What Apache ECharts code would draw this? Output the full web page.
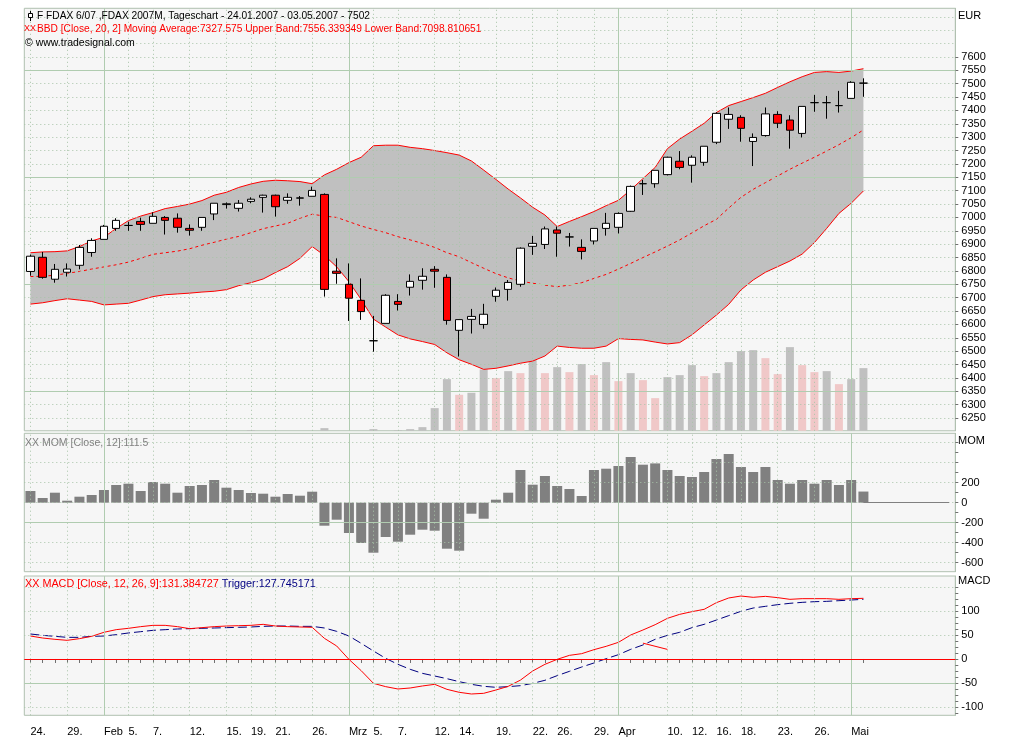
<!DOCTYPE html>
<html><head><meta charset="utf-8">
<script src="https://cdn.jsdelivr.net/npm/echarts@6/dist/echarts.min.js"></script>
<style>html,body{margin:0;padding:0;background:#fff;}#c{width:1014px;height:748px;}</style>
</head><body><div id="c"></div>
<script>
const dates = ['24.01.2007','25.01.2007','26.01.2007','29.01.2007','30.01.2007','31.01.2007','01.02.2007','02.02.2007','05.02.2007','06.02.2007','07.02.2007','08.02.2007','09.02.2007','12.02.2007','13.02.2007','14.02.2007','15.02.2007','16.02.2007','19.02.2007','20.02.2007','21.02.2007','22.02.2007','23.02.2007','26.02.2007','27.02.2007','28.02.2007','01.03.2007','02.03.2007','05.03.2007','06.03.2007','07.03.2007','08.03.2007','09.03.2007','12.03.2007','13.03.2007','14.03.2007','15.03.2007','16.03.2007','19.03.2007','20.03.2007','21.03.2007','22.03.2007','23.03.2007','26.03.2007','27.03.2007','28.03.2007','29.03.2007','30.03.2007','02.04.2007','03.04.2007','04.04.2007','05.04.2007','10.04.2007','11.04.2007','12.04.2007','13.04.2007','16.04.2007','17.04.2007','18.04.2007','19.04.2007','20.04.2007','23.04.2007','24.04.2007','25.04.2007','26.04.2007','27.04.2007','30.04.2007','02.05.2007','03.05.2007'];
const opens  = [6798,6851,6769,6795,6821,6869,6918,6959,6970,6985,6978,7000,6997,6959,6963,7013,7048,7034,7060,7075,7083,7064,7072,7079,7086,6799,6750,6690,6539,6604,6686,6739,6765,6806,6776,6578,6619,6600,6705,6731,6750,6892,6899,6953,6927,6888,6912,6959,6963,7023,7126,7126,7160,7210,7195,7206,7281,7367,7374,7284,7306,7385,7364,7314,7429,7429,7418,7445,7502];
const closes = [6855,6776,6806,6807,6888,6914,6967,6989,6970,6974,7004,6989,6963,6952,7000,7053,7051,7053,7068,7083,7040,7075,7073,7101,6731,6791,6698,6648,6539,6709,6675,6761,6780,6799,6615,6618,6630,6638,6728,6757,6885,6903,6957,6941,6927,6873,6959,6978,7015,7116,7126,7176,7225,7187,7225,7266,7389,7385,7333,7299,7387,7352,7326,7415,7429,7429,7418,7505,7502];
const lows   = [6782,6771,6756,6779,6806,6853,6918,6950,6950,6950,6978,6936,6943,6932,6950,6990,7033,7022,7053,7018,7003,7051,7044,7079,6704,6752,6613,6617,6498,6604,6652,6708,6730,6737,6599,6480,6566,6584,6685,6689,6741,6860,6882,6853,6891,6843,6899,6932,6940,7021,7084,7111,7157,7180,7130,7193,7274,7331,7283,7192,7302,7334,7257,7299,7395,7369,7392,7445,7451];
const highs  = [6861,6871,6826,6828,6897,6922,6972,6997,6984,6999,7019,7005,7015,6974,7000,7053,7056,7065,7075,7085,7085,7090,7080,7115,7090,6847,6828,6772,6632,6713,6713,6787,6810,6818,6787,6618,6658,6677,6738,6766,6888,6931,6966,6966,6942,6918,6959,7017,7019,7119,7140,7176,7227,7248,7232,7266,7393,7411,7382,7314,7411,7397,7382,7415,7458,7454,7473,7509,7520];
const volume = [0,0,0,0,0,0,0,0,0,0,0,0,0,0,0,0,0,0,2,0,0,0,0,0,8,0,0,0,5,0,2,5,11,68,155,108,114,184,158,179,173,216,173,191,176,200,167,206,149,173,152,98,161,167,197,164,173,206,239,242,218,170,251,197,176,179,140,155,188];
const volumeDown = [0,0,0,0,0,0,0,0,0,0,0,0,0,0,0,0,0,0,0,0,0,0,0,0,0,0,0,0,0,0,0,0,0,0,0,1,0,0,1,0,1,0,1,0,1,0,1,0,1,0,1,1,0,0,0,1,0,0,0,0,1,1,0,1,1,0,1,0,0];
const bbUpper = [6868,6871,6872,6875,6891,6912,6926,6959,6988,7005,7018,7033,7041,7050,7063,7083,7094,7112,7125,7135,7139,7137,7134,7126,7159,7180,7205,7225,7268,7270,7270,7262,7257,7250,7242,7233,7211,7177,7142,7106,7073,7038,7009,6966,6985,7003,7022,7044,7064,7103,7145,7187,7257,7293,7322,7352,7392,7418,7433,7448,7464,7486,7507,7526,7542,7545,7542,7547,7556];
const bbMid = [6779,6780,6784,6791,6798,6807,6815,6823,6833,6847,6862,6868,6874,6883,6896,6907,6919,6929,6943,6958,6968,6978,6997,7012,7005,7000,6984,6968,6955,6943,6928,6916,6903,6888,6868,6853,6831,6810,6790,6774,6762,6754,6747,6741,6747,6756,6772,6787,6807,6828,6850,6871,6893,6916,6942,6969,6993,7035,7075,7105,7130,7155,7180,7203,7225,7248,7272,7298,7327];
const bbLower = [6676,6681,6689,6696,6691,6686,6673,6676,6679,6691,6704,6711,6714,6717,6721,6724,6730,6745,6756,6770,6794,6816,6847,6891,6858,6815,6760,6693,6620,6590,6561,6546,6536,6525,6494,6468,6451,6432,6436,6445,6455,6463,6482,6519,6514,6511,6511,6519,6547,6544,6542,6534,6527,6532,6561,6598,6635,6675,6729,6766,6795,6816,6837,6863,6906,6959,7015,7053,7099];
const momentum = [117,47,100,20,60,77,127,177,190,117,207,190,100,167,177,227,150,127,97,90,60,87,70,110,-230,-170,-303,-403,-500,-343,-390,-320,-270,-280,-460,-480,-110,-160,30,100,327,180,267,167,137,67,327,340,367,457,380,393,327,267,257,307,437,487,357,307,357,227,190,227,190,227,177,227,111.5];
const macdLine = [47.9,43.7,41,38.9,42.4,47.2,55.6,61.1,63.9,67.4,70.1,70.1,67.4,63.2,65.3,67.4,68.7,69.4,70.1,72.2,68.7,67.4,66.7,66,43,27.1,-0.7,-24.3,-50.7,-57.6,-62.5,-60.4,-56.2,-52.8,-63.2,-69.4,-72.9,-71.5,-64.6,-57,-44,-25,-11.1,-0.7,7.6,11.1,19.4,26.4,34.7,50,60.4,71.5,84.7,93,98.6,103.5,117.4,127.1,131.2,128.5,130.5,127.8,124.3,125.7,125.7,125.7,124.3,125.7,126.4];
const triggerLine = [52.1,49.3,47.2,45.1,45.1,47.2,47.9,50.7,54.2,56.9,59.7,61.1,62.5,63.2,63.9,64.6,65.3,66,66.7,68,68.7,68.7,68,68,64.6,57.6,47.9,32.6,16.7,1.4,-11.1,-21.5,-29.9,-35.4,-41,-47.2,-52.8,-56.9,-59,-57.6,-55.6,-50.7,-44.4,-34.7,-25.7,-16.7,-8.3,0.7,9,20.1,29.2,41,49.3,55.6,65.3,72.2,81.2,90.3,99.3,106.2,109.7,113.2,116,118,119.4,120.1,121.5,122.9,124.3];
const noteDates = ['04.04.2007','10.04.2007'];
const noteValues = [33, 20];
const xTickDates = ['24.01.2007','29.01.2007','01.02.2007','05.02.2007','07.02.2007','12.02.2007','15.02.2007','19.02.2007','21.02.2007','26.02.2007','01.03.2007','05.03.2007','07.03.2007','12.03.2007','14.03.2007','19.03.2007','22.03.2007','26.03.2007','29.03.2007','02.04.2007','10.04.2007','12.04.2007','16.04.2007','18.04.2007','23.04.2007','26.04.2007','02.05.2007'];
const xTickLabels = ['24.','29.','Feb','5.','7.','12.','15.','19.','21.','26.','Mrz','5.','7.','12.','14.','19.','22.','26.','29.','Apr','10.','12.','16.','18.','23.','26.','Mai'];
const monthLabels = ['Feb','Mrz','Apr','Mai'];
const priceLabels = [7600,7550,7500,7450,7400,7350,7300,7250,7200,7150,7100,7050,7000,6950,6900,6850,6800,6750,6700,6650,6600,6550,6500,6450,6400,6350,6300,6250];
const priceGridMinor = [7750,7700,7650,7600,7500,7450,7400,7350,7300,7250,7200,7100,7050,7000,6950,6900,6850,6800,6700,6650,6600,6550,6500,6450,6400,6300,6250];
const priceGridMajor = [7550,7150,6750,6350];
const momLabels = [200,0,-200,-400,-600];
const momTicks = [600,500,400,300,200,100,0,-100,-200,-300,-400,-500,-600];
const momGridMinor = [600,400,200,0,-400,-600];
const momGridMajor = [-200];
const macdLabels = [100,50,0,-50,-100];
const macdTicks = [150,137.5,125,112.5,100,87.5,75,62.5,50,37.5,25,12.5,0,-12.5,-25,-37.5,-50,-62.5,-75,-87.5,-100,-112.5];
const macdGridMinor = [150,100,50,-100];
const macdGridMajor = [-50];
const padSlots = 7;

const N = dates.length;
const cats = dates.concat(Array.from({length: padSlots}, (_, k) => 'pad' + (k + 1)));
const tickIdx = xTickDates.map(d => dates.indexOf(d));
const labelAt = {};
tickIdx.forEach((ix, k) => { labelAt[ix] = xTickLabels[k]; });

const FONT = '"Liberation Sans", Arial, sans-serif';
const BORDER = '#b0c0b0';
const dotStyle = {color: '#a8c4a8', type: [1, 3], width: 1};
const solidStyle = {color: '#b0ccb0', type: 'solid', width: 1};
const vLines = tickIdx.map((ix, k) => ({xAxis: ix, lineStyle: monthLabels.includes(xTickLabels[k]) ? solidStyle : dotStyle}));
function gridLines(minor, major, extra) {
  const h = minor.map(v => ({yAxis: v, lineStyle: dotStyle})).concat(major.map(v => ({yAxis: v, lineStyle: solidStyle})));
  return {silent: true, symbol: ['none', 'none'], label: {show: false}, animation: false, data: vLines.concat(h).concat(extra || [])};
}

const GL = 24.3, GW = 931;
const grids = [
  {left: GL, width: GW, top: 8.3, height: 422.5},
  {left: GL, width: GW, top: 433.3, height: 138.4},
  {left: GL, width: GW, top: 576, height: 139.3}
].map(g => Object.assign(g, {show: true, backgroundColor: '#f6f6f6', borderColor: BORDER, borderWidth: 1}));

function xAxisFor(gi, show) {
  return {
    gridIndex: gi, type: 'category', data: cats, boundaryGap: true,
    axisLine: {show: show, lineStyle: {color: BORDER}},
    axisTick: {show: show, interval: (i) => i < N, alignWithLabel: true, length: 4, lineStyle: {color: '#707070'}},
    axisLabel: {show: show, interval: (i) => labelAt[i] !== undefined, formatter: (v, i) => labelAt[i] || '',
      align: 'left', margin: 11, fontSize: 11, fontFamily: FONT, color: '#000'},
    splitLine: {show: false}, axisPointer: {show: false}
  };
}
function yAxisFor(gi, min, max, labels, ticks) {
  return {
    gridIndex: gi, type: 'value', position: 'right', min: min, max: max,
    axisLine: {show: true, lineStyle: {color: BORDER}},
    axisTick: {show: true, customValues: ticks, length: 3, lineStyle: {color: '#707070'}},
    axisLabel: {show: true, customValues: labels, formatter: (v) => String(v), margin: 6, fontSize: 11, fontFamily: FONT, color: '#000'},
    splitLine: {show: false}
  };
}

const lineBase = {type: 'line', symbol: 'none', silent: true, animation: false};

const option = {
  animation: false,
  backgroundColor: '#ffffff',
  grid: grids,
  xAxis: [xAxisFor(0, false), xAxisFor(1, false), xAxisFor(2, true)],
  yAxis: [
    yAxisFor(0, 6202.4, 7781.7, priceLabels, priceLabels),
    {gridIndex: 0, type: 'value', show: false, min: 0, max: 1267.5, splitLine: {show: false}},
    yAxisFor(1, -690, 694, momLabels, momTicks),
    yAxisFor(2, -117.3, 172.9, macdLabels, macdTicks)
  ],
  series: [
    {name: 'Volume', type: 'bar', xAxisIndex: 0, yAxisIndex: 1, barWidth: 8, z: 1, silent: true,
      data: volume.map((v, i) => ({value: v, itemStyle: {color: volumeDown[i] ? '#f0c8c8' : '#c0c0c0'}}))},
    Object.assign({}, lineBase, {name: 'bbBase', xAxisIndex: 0, yAxisIndex: 0, stack: 'band', data: bbLower,
      lineStyle: {width: 0, opacity: 0}, z: 2}),
    Object.assign({}, lineBase, {name: 'bbFill', xAxisIndex: 0, yAxisIndex: 0, stack: 'band',
      data: bbUpper.map((u, i) => u - bbLower[i]), lineStyle: {width: 0, opacity: 0},
      areaStyle: {color: '#c0c0c0', opacity: 1}, z: 2}),
    Object.assign({}, lineBase, {name: 'gridPrice', xAxisIndex: 0, yAxisIndex: 0, data: bbMid,
      lineStyle: {opacity: 0}, z: 3, markLine: gridLines(priceGridMinor, priceGridMajor)}),
    Object.assign({}, lineBase, {name: 'Upper Band', xAxisIndex: 0, yAxisIndex: 0, data: bbUpper,
      lineStyle: {color: '#ff0000', width: 1}, z: 4}),
    Object.assign({}, lineBase, {name: 'Lower Band', xAxisIndex: 0, yAxisIndex: 0, data: bbLower,
      lineStyle: {color: '#ff0000', width: 1}, z: 4}),
    Object.assign({}, lineBase, {name: 'Moving Average', xAxisIndex: 0, yAxisIndex: 0, data: bbMid,
      lineStyle: {color: '#ff0000', width: 1, type: [3, 3]}, z: 4}),
    {name: 'FDAX', type: 'candlestick', xAxisIndex: 0, yAxisIndex: 0, barWidth: 8, z: 5, silent: true,
      data: dates.map((d, i) => [opens[i], closes[i], lows[i], highs[i]]),
      itemStyle: {color: '#ffffff', color0: '#ff0000', borderColor: '#000000', borderColor0: '#000000', borderWidth: 1}},

    Object.assign({}, lineBase, {name: 'gridMom', xAxisIndex: 1, yAxisIndex: 2, data: momentum,
      lineStyle: {opacity: 0}, z: 1, markLine: gridLines(momGridMinor, momGridMajor, [
        [{coord: [N - 1, 0], lineStyle: {color: '#808080', width: 1, type: 'solid'}}, {coord: [cats.length - 1, 0]}]
      ])}),
    {name: 'MOM', type: 'bar', xAxisIndex: 1, yAxisIndex: 2, barWidth: 10, z: 2, silent: true,
      data: momentum, itemStyle: {color: '#808080'}},

    Object.assign({}, lineBase, {name: 'gridMacd', xAxisIndex: 2, yAxisIndex: 3, data: macdLine,
      lineStyle: {opacity: 0}, z: 1, markLine: gridLines(macdGridMinor, macdGridMajor, [
        {yAxis: 0, lineStyle: {color: '#ff0000', width: 1, type: 'solid'}}
      ])}),
    Object.assign({}, lineBase, {name: 'Trigger', xAxisIndex: 2, yAxisIndex: 3, data: triggerLine,
      lineStyle: {color: '#000080', width: 1, type: [9, 4]}, z: 3}),
    Object.assign({}, lineBase, {name: 'MACD', xAxisIndex: 2, yAxisIndex: 3, data: macdLine,
      lineStyle: {color: '#ff0000', width: 1}, z: 4}),
    Object.assign({}, lineBase, {name: 'Note', xAxisIndex: 2, yAxisIndex: 3,
      data: noteDates.map((d, k) => [dates.indexOf(d), noteValues[k]]),
      lineStyle: {color: '#ff0000', width: 1}, z: 4})
  ],
  graphic: [
    {type: 'line', z: 100, shape: {x1: 30.5, y1: 11, x2: 30.5, y2: 21}, style: {stroke: '#000', lineWidth: 1}},
    {type: 'rect', z: 101, shape: {x: 28.5, y: 13.5, width: 4, height: 4}, style: {fill: '#fff', stroke: '#000', lineWidth: 1}},
    {type: 'text', z: 100, x: 37, y: 16, style: {text: 'F FDAX 6/07 ,FDAX 2007M, Tageschart - 24.01.2007 - 03.05.2007 - 7502', fill: '#000', font: '10.2px ' + FONT, verticalAlign: 'middle'}},
    {type: 'text', z: 100, x: 24, y: 29, style: {text: 'XX', fill: '#ff0000', font: '9px ' + FONT, verticalAlign: 'middle'}},
    {type: 'text', z: 100, x: 37, y: 29, style: {text: 'BBD [Close, 20, 2] Moving Average:7327.575 Upper Band:7556.339349 Lower Band:7098.810651', fill: '#ff0000', font: '10.2px ' + FONT, verticalAlign: 'middle'}},
    {type: 'text', z: 100, x: 25, y: 43, style: {text: '© www.tradesignal.com', fill: '#000', font: '10.5px ' + FONT, verticalAlign: 'middle'}},
    {type: 'text', z: 100, x: 958, y: 16, style: {text: 'EUR', fill: '#000', font: '11px ' + FONT, verticalAlign: 'middle'}},
    {type: 'text', z: 100, x: 958, y: 441, style: {text: 'MOM', fill: '#000', font: '11px ' + FONT, verticalAlign: 'middle'}},
    {type: 'text', z: 100, x: 958, y: 581, style: {text: 'MACD', fill: '#000', font: '11px ' + FONT, verticalAlign: 'middle'}},
    {type: 'text', z: 100, x: 25, y: 443, style: {text: 'XX MOM [Close, 12]:111.5', fill: '#808080', font: '10.5px ' + FONT, verticalAlign: 'middle'}},
    {type: 'text', z: 100, x: 25, y: 584, style: {text: '{r|XX MACD [Close, 12, 26, 9]:131.384727} {b|Trigger:127.745171}', font: '10.8px ' + FONT, verticalAlign: 'middle',
      rich: {r: {fill: '#ff0000', font: '10.8px ' + FONT}, b: {fill: '#000080', font: '10.8px ' + FONT}}}}
  ]
};

const chart = echarts.init(document.getElementById('c'), null, {renderer: 'canvas', width: 1014, height: 748});
chart.setOption(option);
</script>
</body></html>
